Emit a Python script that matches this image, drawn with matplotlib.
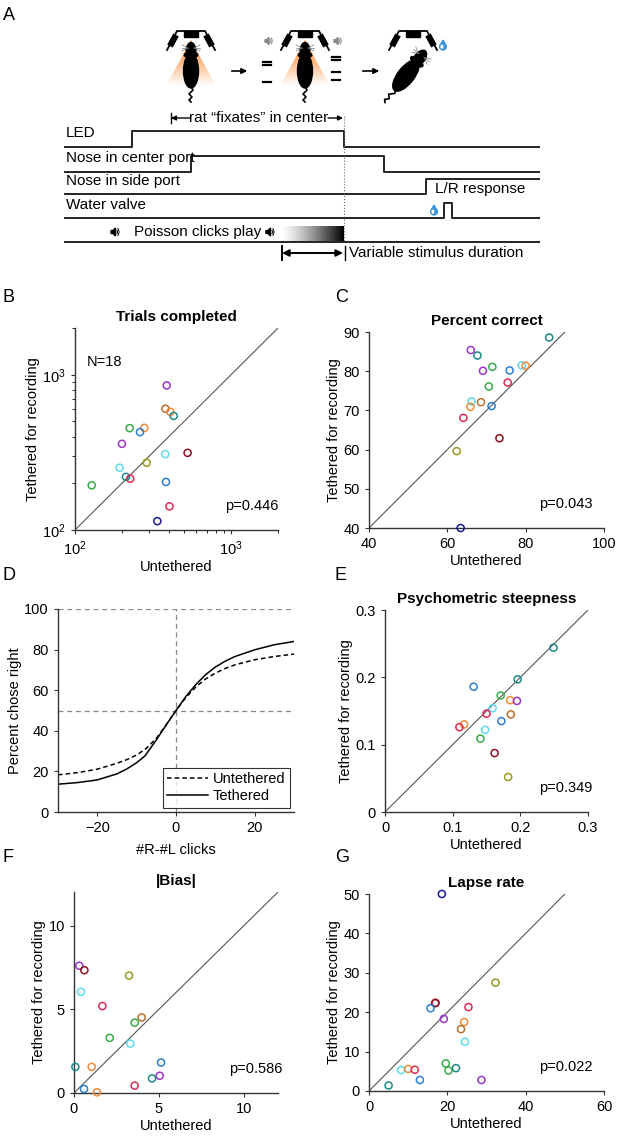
import numpy as np
import matplotlib
matplotlib.use('Agg')
import matplotlib.pyplot as plt
from matplotlib.patches import Ellipse, Polygon, Rectangle, Arc
from matplotlib.transforms import Affine2D

plt.rcParams['font.family'] = ['Liberation Sans', 'DejaVu Sans']
plt.rcParams['font.size'] = 10.5

W, H = 617, 1136

# ---- colours (one per rat, roughly) ----
PU, OR, TE, GR, BL, CY = '#9a35c8', '#ee8a3a', '#1a8a88', '#3aaa48', '#2a7fcc', '#5fdcec'
DR, OL, CR, NV, BR = '#8a1020', '#9a9a22', '#dd2a55', '#1a1a88', '#b8702a'

# ---- B: trials completed ----
trials_unt = [387, 380, 408, 429, 224, 278, 261, 200, 379, 527, 288, 193, 212, 226, 128, 383, 403, 337]
trials_teth = [853, 604, 577, 543, 453, 455, 427, 359, 308, 314, 271, 252, 220, 214, 194, 204, 142, 114]
trials_col = [PU, BR, OR, TE, GR, OR, BL, PU, CY, DR, OL, CY, TE, CR, GR, BL, CR, NV]

# ---- C: percent correct ----
pc_unt = [86.0, 66.0, 67.7, 69.1, 71.5, 75.9, 79.0, 80.0, 75.4, 70.6, 66.2, 65.9, 68.6, 71.3, 64.1, 73.3, 62.4, 63.4]
pc_teth = [88.6, 85.4, 84.0, 80.1, 81.1, 80.2, 81.5, 81.4, 77.1, 76.1, 72.3, 70.9, 72.1, 71.1, 68.1, 62.9, 59.6, 40.0]
pc_col = [TE, PU, TE, PU, GR, BL, CY, OR, CR, GR, CY, OR, BR, BL, CR, DR, OL, NV]

# ---- D: average psychometric curves ----
clicks = [-30, -25, -20, -15, -12.5, -10, -7.5, -5, -2.5, 0, 2.5, 5, 7.5, 10, 12.5, 15, 20, 25, 30]
chose_unt = [18.3, 19.4, 21.1, 24.0, 25.8, 28.1, 31.4, 36.3, 42.9, 50.0, 56.4, 61.5, 65.5, 68.4, 70.7, 72.5, 75.0, 76.6, 77.8]
clicks_t = [-30, -25, -20, -15, -12.5, -10, -7.9, -5, -2.5, 0, 2.5, 5, 7.5, 10, 12.5, 15, 20, 25, 30]
chose_teth = [13.7, 14.5, 15.8, 18.8, 21.2, 24.3, 27.6, 35.5, 42.9, 50.0, 56.9, 62.7, 67.6, 71.4, 74.3, 76.6, 79.9, 82.4, 84.0]

# ---- E: psychometric steepness ----
st_unt = [0.249, 0.196, 0.131, 0.171, 0.185, 0.195, 0.159, 0.150, 0.186, 0.172, 0.117, 0.110, 0.148, 0.141, 0.162, 0.182]
st_teth = [0.244, 0.197, 0.186, 0.173, 0.166, 0.165, 0.154, 0.146, 0.145, 0.135, 0.130, 0.126, 0.122, 0.109, 0.0875, 0.052]
st_col = [TE, TE, BL, GR, OR, PU, CY, CR, BR, BL, OR, CR, CY, GR, DR, OL]

# ---- F: |bias| ----
bias_unt = [0.31, 0.61, 3.24, 0.41, 1.67, 3.98, 3.57, 2.10, 3.31, 5.12, 0.08, 1.04, 5.04, 4.59, 3.57, 0.59, 1.35]
bias_teth = [7.60, 7.33, 7.01, 6.04, 5.19, 4.51, 4.20, 3.29, 2.95, 1.82, 1.56, 1.56, 1.03, 0.87, 0.44, 0.24, 0.04]
bias_col = [PU, DR, OL, CY, CR, BR, GR, GR, CY, BL, TE, OR, PU, TE, CR, BL, OR]

# ---- G: lapse rate ----
lapse_unt = [18.6, 32.3, 17.0, 16.9, 15.7, 25.4, 19.1, 24.3, 23.5, 24.5, 19.6, 20.3, 22.2, 8.2, 10.0, 11.7, 13.0, 28.7, 5.0]
lapse_teth = [50.0, 27.5, 22.4, 22.3, 21.0, 21.3, 18.3, 17.5, 15.7, 12.5, 7.0, 5.2, 5.8, 5.3, 5.6, 5.4, 2.8, 2.8, 1.4]
lapse_col = [NV, OL, CR, DR, BL, CR, PU, OR, BR, CY, GR, GR, TE, CY, OR, CR, BL, PU, TE]


def px_axes(fig, l, t, r, b):
    return fig.add_axes([l / W, 1 - b / H, (r - l) / W, (b - t) / H])


def style(ax):
    for s in ['top', 'right']:
        ax.spines[s].set_visible(False)
    for s in ['left', 'bottom']:
        ax.spines[s].set_color('#333333')
        ax.spines[s].set_linewidth(1.0)
    ax.tick_params(direction='out', length=3, width=0.8, colors='#333333',
                   labelcolor='black', labelsize=10.5)
    ax.tick_params(which='minor', direction='out', length=2, width=0.6)


def scatter_panel(ax, xs, ys, cols, lim, ptxt, ptx=0.97):
    ax.plot(lim, lim, color='#555555', lw=0.8, zorder=1)
    ax.scatter(xs, ys, s=26, facecolors='none', edgecolors=cols, linewidths=1.1,
               zorder=3, clip_on=False)
    ax.text(ptx, 0.12, ptxt, transform=ax.transAxes, ha='right', va='center', fontsize=10.5)
    style(ax)


fig = plt.figure(figsize=(W / 100, H / 100), dpi=100)

# ---------------- overlay for panel A and letters ----------------
ov = fig.add_axes([0, 0, 1, 1])
ov.set_zorder(-1)
ov.axis('off')

for lab, x, y in [('A', 3, 15), ('B', 3, 297), ('C', 335, 297), ('D', 3, 575),
                  ('E', 335, 575), ('F', 3, 857), ('G', 335, 857)]:
    ov.text(x, y, lab, fontsize=13, ha='left', va='center')


def bracket(ax, cx):
    ax.plot([cx - 24, cx - 14, cx + 14, cx + 24], [50, 31, 31, 50], color='black', lw=1.3)
    ax.plot([cx - 21, cx - 15], [46, 35], color='black', lw=4.5, solid_capstyle='butt')
    ax.plot([cx + 21, cx + 15], [46, 35], color='black', lw=4.5, solid_capstyle='butt')
    ax.add_patch(Rectangle((cx - 7, 31), 14, 6, color='black'))


def cone(ax, cx):
    poly = Polygon([[cx, 40], [cx - 25, 86], [cx + 25, 86]], closed=True,
                   facecolor='none', edgecolor='none')
    ax.add_patch(poly)
    grad = np.linspace(1, 0, 60)[:, None] * np.ones((1, 10))
    rgb = np.ones((60, 10, 3))
    orange = np.array([0.97, 0.48, 0.1])
    rgb = rgb * (1 - grad[..., None]) + orange * grad[..., None]
    im = ax.imshow(rgb, extent=(cx - 25, cx + 25, 86, 40), aspect='auto', zorder=1)
    im.set_clip_path(poly)


def rat(ax, cx, cy, ang, sc=1.0):
    tr = Affine2D().scale(sc).rotate_deg(ang).translate(cx, cy) + ax.transData
    ax.add_patch(Ellipse((0, 3), 15, 34, color='black', transform=tr, zorder=3))
    ax.add_patch(Ellipse((0, -17), 9.5, 17, color='black', transform=tr, zorder=3))
    ax.add_patch(Ellipse((-4.5, -13), 4.5, 3.5, color='black', transform=tr, zorder=3))
    ax.add_patch(Ellipse((4.5, -13), 4.5, 3.5, color='black', transform=tr, zorder=3))
    tx = [0, 2, -2, 1, -2, 0]
    ty = [18, 22, 26, 29, 32, 34]
    ax.plot(tx, ty, color='black', lw=1.2, transform=tr, zorder=3)
    for s in [-1, 1]:
        for dy in [-2, 0, 2]:
            ax.plot([s * 3, s * 9], [-20, -20 + dy * 1.5], color='#777777', lw=0.5,
                    transform=tr, zorder=4)


def drop(ax, x, y, s=1.0):
    ax.add_patch(Ellipse((x, y + 1.5 * s), 6 * s, 6 * s, color='#3a95dd', zorder=5))
    ax.add_patch(Polygon([[x - 2.8 * s, y + 0.8 * s], [x + 2.8 * s, y + 0.8 * s], [x, y - 4.5 * s]],
                         color='#3a95dd', zorder=5))
    ax.add_patch(Ellipse((x - 1 * s, y + 1.5 * s), 1.5 * s, 2.5 * s, color='white', zorder=6))


def speaker(ax, x, y, s=1.0, col='black'):
    ax.add_patch(Polygon([[x, y - 1.5 * s], [x + 2 * s, y - 1.5 * s], [x + 4.5 * s, y - 4 * s],
                          [x + 4.5 * s, y + 4 * s], [x + 2 * s, y + 1.5 * s], [x, y + 1.5 * s]],
                         color=col, zorder=5))
    for r in [4, 7]:
        ax.add_patch(Arc((x + 4.5 * s, y), r * s, r * s * 1.3, theta1=-60, theta2=60,
                         color=col, lw=0.7, zorder=5))


# icons
bracket(ov, 191)
cone(ov, 191)
rat(ov, 191, 68, 0)
ov.annotate('', xy=(250, 71), xytext=(229, 71),
            arrowprops=dict(arrowstyle='-|>', color='black', lw=1.2, mutation_scale=8))
bracket(ov, 305)
cone(ov, 305)
rat(ov, 305, 68, 0)
for x0, ys in [(267, [62, 65, 82]), (336, [57, 60, 72, 80])]:
    speaker(ov, x0 - 2, 41, 0.9, '#888888')
    for yy in ys:
        ov.plot([x0 - 4, x0 + 4], [yy, yy], color='black', lw=1.6)
ov.annotate('', xy=(382, 71), xytext=(360, 71),
            arrowprops=dict(arrowstyle='-|>', color='black', lw=1.2, mutation_scale=8))
bracket(ov, 413)
rat(ov, 408, 73, 38, 1.1)
drop(ov, 443, 45, 1.1)

# timing diagram
lc = '#222222'
lw = 1.4
x0, x1 = 65, 539
ov.plot([x0, 132, 132, 344, 344, x1], [146.5, 146.5, 131, 131, 146.5, 146.5], color=lc, lw=lw)
ov.plot([x0, 191, 191, 384, 384, x1], [171.5, 171.5, 156, 156, 171.5, 171.5], color=lc, lw=lw)
ov.plot([x0, 426, 426, x1], [194, 194, 179, 179], color=lc, lw=lw)
ov.plot([x0, 444, 444, 452, 452, x1], [218, 218, 202.5, 202.5, 218, 218], color=lc, lw=lw)
ov.plot([x0, x1], [241.5, 241.5], color=lc, lw=lw)

ov.text(66, 140, 'LED', ha='left', va='bottom', fontsize=11)
ov.text(66, 165, 'Nose in center port', ha='left', va='bottom', fontsize=11)
ov.text(66, 188, 'Nose in side port', ha='left', va='bottom', fontsize=11)
ov.text(66, 212, 'Water valve', ha='left', va='bottom', fontsize=11)
ov.text(435, 189, 'L/R response', ha='left', va='center', fontsize=11)
drop(ov, 434, 210, 1.1)

speaker(ov, 111, 232, 1.0)
ov.text(134, 232, 'Poisson clicks play', ha='left', va='center', fontsize=11)
speaker(ov, 266, 232, 1.0)
g = np.linspace(0, 1, 100)[None, :] ** 1.3
ov.imshow(g, cmap='gray_r', extent=(281, 344, 241.5, 226.5), aspect='auto', zorder=2, vmin=0, vmax=1)

ov.plot([344, 344], [116, 242], color='#666666', lw=0.8, ls=':')

ov.text(259, 118, 'rat \u201cfixates\u201d in center', ha='center', va='center', fontsize=11)
ov.annotate('', xy=(171, 118), xytext=(190, 118),
            arrowprops=dict(arrowstyle='-|>', color='black', lw=1.0, mutation_scale=7, shrinkA=0, shrinkB=0))
ov.annotate('', xy=(343, 118), xytext=(328, 118),
            arrowprops=dict(arrowstyle='-|>', color='black', lw=1.0, mutation_scale=7, shrinkA=0, shrinkB=0))
ov.plot([171, 171], [113, 123], color='black', lw=1.0)

ov.annotate('', xy=(282, 253), xytext=(343, 253),
            arrowprops=dict(arrowstyle='<|-|>', color='black', lw=1.4, mutation_scale=10, shrinkA=0, shrinkB=0))
ov.plot([282, 282], [246, 260], color='black', lw=1.4)
ov.plot([345, 345], [246, 260], color='black', lw=1.0)
ov.text(349, 253, 'Variable stimulus duration', ha='left', va='center', fontsize=11)

ov.set_xlim(0, W)
ov.set_ylim(H, 0)

# ---------------- B ----------------
axB = px_axes(fig, 75, 328, 278, 530)
axB.set_xscale('log')
axB.set_yscale('log')
scatter_panel(axB, trials_unt, trials_teth, trials_col, [100, 2000], 'p=0.446', 1.0)
axB.set_xlim(100, 2000)
axB.set_ylim(100, 2000)
axB.set_xticks([100, 1000])
axB.set_yticks([100, 1000])
axB.text(119, 1200, 'N=18', ha='left', va='center')
axB.set_title('Trials completed', fontweight='bold', fontsize=11, pad=5)
axB.set_xlabel('Untethered', labelpad=2)
axB.set_ylabel('Tethered for recording', labelpad=2)

# ---------------- C ----------------
axC = px_axes(fig, 369, 332, 604, 528)
scatter_panel(axC, pc_unt, pc_teth, pc_col, [40, 90], 'p=0.043', 0.95)
axC.set_xlim(40, 100)
axC.set_ylim(40, 90)
axC.set_xticks([40, 60, 80, 100])
axC.set_yticks([40, 50, 60, 70, 80, 90])
axC.set_title('Percent correct', fontweight='bold', fontsize=11, pad=5)
axC.set_xlabel('Untethered', labelpad=2)
axC.set_ylabel('Tethered for recording', labelpad=2)

# ---------------- D ----------------
axD = px_axes(fig, 58, 609, 294, 812)
axD.axhline(50, color='#888888', ls='--', lw=0.9, dashes=(4, 3))
axD.axhline(100, color='#888888', ls='--', lw=0.9, dashes=(4, 3))
axD.axvline(0, color='#888888', ls='--', lw=0.9, dashes=(4, 3))
axD.plot(clicks, chose_unt, color='black', ls='--', lw=1.1, dashes=(3, 2), label='Untethered')
axD.plot(clicks_t, chose_teth, color='black', lw=1.1, label='Tethered')
axD.set_xlim(-30, 30)
axD.set_ylim(0, 100)
axD.set_xticks([-20, 0, 20])
axD.set_yticks([0, 20, 40, 60, 80, 100])
style(axD)
leg = axD.legend(loc='lower right', frameon=True, fancybox=False, edgecolor='black',
                 fontsize=10.5, borderpad=0.3, handlelength=2.8, handletextpad=0.3,
                 labelspacing=0.2, borderaxespad=0.3)
leg.get_frame().set_linewidth(0.8)
axD.set_xlabel('#R-#L clicks', labelpad=6)
axD.set_ylabel('Percent chose right', labelpad=2)

# ---------------- E ----------------
axE = px_axes(fig, 385, 610, 588, 812)
scatter_panel(axE, st_unt, st_teth, st_col, [0, 0.3], 'p=0.349', 1.02)
axE.set_xlim(0, 0.3)
axE.set_ylim(0, 0.3)
axE.set_xticks([0, 0.1, 0.2, 0.3])
axE.set_yticks([0, 0.1, 0.2, 0.3])
axE.set_xticklabels(['0', '0.1', '0.2', '0.3'])
axE.set_yticklabels(['0', '0.1', '0.2', '0.3'])
axE.set_title('Psychometric steepness', fontweight='bold', fontsize=11, pad=5)
axE.set_xlabel('Untethered', labelpad=2)
axE.set_ylabel('Tethered for recording', labelpad=2)

# ---------------- F ----------------
axF = px_axes(fig, 74, 892, 278, 1093)
scatter_panel(axF, bias_unt, bias_teth, bias_col, [0, 12], 'p=0.586', 1.02)
axF.set_xlim(0, 12)
axF.set_ylim(0, 12)
axF.set_xticks([0, 5, 10])
axF.set_yticks([0, 5, 10])
axF.set_title('|Bias|', fontweight='bold', fontsize=11, pad=5)
axF.set_xlabel('Untethered', labelpad=2)
axF.set_ylabel('Tethered for recording', labelpad=2)

# ---------------- G ----------------
axG = px_axes(fig, 369, 894, 604, 1091)
scatter_panel(axG, lapse_unt, lapse_teth, lapse_col, [0, 50], 'p=0.022', 0.95)
axG.set_xlim(0, 60)
axG.set_ylim(0, 50)
axG.set_xticks([0, 20, 40, 60])
axG.set_yticks([0, 10, 20, 30, 40, 50])
axG.set_title('Lapse rate', fontweight='bold', fontsize=11, pad=5)
axG.set_xlabel('Untethered', labelpad=2)
axG.set_ylabel('Tethered for recording', labelpad=2)

fig.savefig('out.png', dpi=100)
